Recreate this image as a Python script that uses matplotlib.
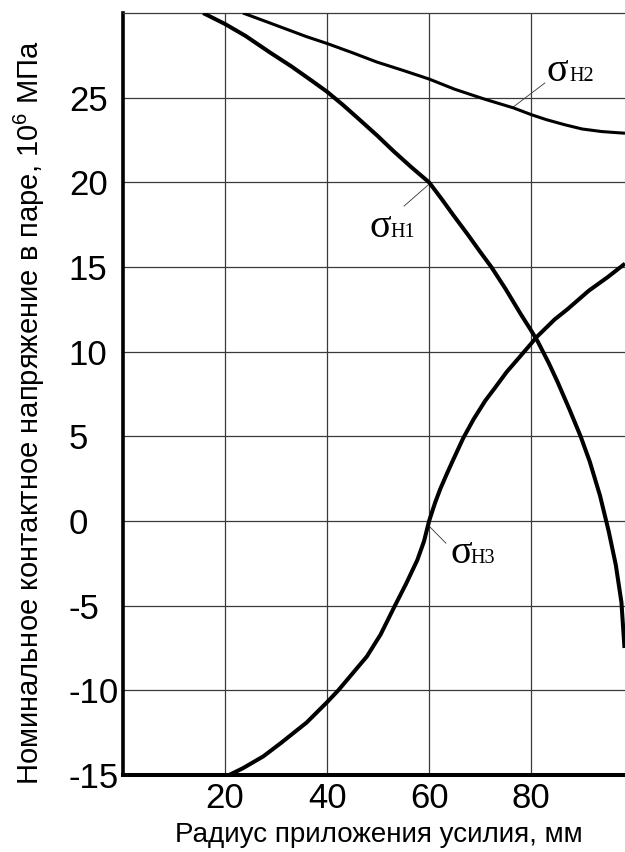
import matplotlib.pyplot as plt

plt.rcParams['font.family'] = ['Liberation Sans', 'DejaVu Sans']
plt.rcParams['mathtext.fontset'] = 'custom'
plt.rcParams['mathtext.rm'] = 'Liberation Sans'
plt.rcParams['mathtext.it'] = 'Liberation Sans'
plt.rcParams['axes.unicode_minus'] = False

# ── Data ─────────────────────────────────────────────────────────────────────
x_h1 = [15.7, 20, 24, 28.9, 33, 37, 40, 43, 46, 49.8, 53, 56.5, 60, 62.5,
        64.9, 67.5, 70, 72.2, 75, 78, 80, 81.3, 83.5, 85.2, 87.5, 89.7, 91.5,
        93.5, 95.2, 96.6, 97.7, 98.3]
y_h1 = [30, 29.35, 28.65, 27.65, 26.85, 26.0, 25.35, 24.6, 23.8, 22.77, 21.85,
        20.9, 20.0, 19.0, 18.0, 16.95, 15.9, 15.0, 13.7, 12.2, 11.25, 10.6,
        9.3, 8.2, 6.6, 5.0, 3.5, 1.5, -0.6, -2.6, -4.8, -7.5]

x_h2 = [23.5, 28, 32, 36, 40, 45, 49.8, 55, 60, 65, 71, 76.5, 80, 83, 86.6,
        90, 93.8, 96, 98.4]
y_h2 = [30, 29.5, 29.05, 28.6, 28.2, 27.65, 27.1, 26.6, 26.1, 25.5, 24.9, 24.4,
        24.0, 23.7, 23.4, 23.15, 23.0, 22.95, 22.9]

x_h3 = [20.8, 23.5, 27.5, 31, 36, 40, 42.2, 45, 47.8, 50.5, 53.3, 55.5, 57.7,
        59, 60, 61.2, 62.2, 63.5, 64.7, 66.7, 68.7, 71, 73, 75.2, 77.5, 79.5,
        81.2, 84.6, 87.1, 91.3, 95, 98.4]
y_h3 = [-15, -14.6, -13.9, -13.1, -11.9, -10.7, -10.0, -9.0, -8.0, -6.7, -5.0,
        -3.7, -2.3, -1.2, 0, 1.1, 1.9, 2.8, 3.6, 4.9, 6.0, 7.1, 7.9, 8.8, 9.6,
        10.3, 10.9, 11.9, 12.5, 13.6, 14.4, 15.2]

x_ticks = [20, 40, 60, 80]
y_ticks = [-15, -10, -5, 0, 5, 10, 15, 20, 25]

# ── Figure ───────────────────────────────────────────────────────────────────
fig = plt.figure(figsize=(6.25, 8.52), dpi=100)
ax = fig.add_axes([123 / 625, 1 - 775 / 852, 502 / 625, 762 / 852])

ax.plot(x_h1, y_h1, color='black', lw=2.9, solid_capstyle='butt', zorder=3)
ax.plot(x_h2, y_h2, color='black', lw=2.2, solid_capstyle='butt', zorder=3)
ax.plot(x_h3, y_h3, color='black', lw=2.9, solid_capstyle='butt', zorder=3)

ax.set_xlim(0, 98.4)
ax.set_ylim(-15, 30)
ax.set_xticks(x_ticks)
ax.set_yticks(y_ticks)
ax.grid(True, color='#3a3a3a', lw=0.9, zorder=1)

ax.spines['right'].set_visible(False)
ax.spines['top'].set_linewidth(0.9)
ax.spines['top'].set_color('#3a3a3a')
ax.spines['left'].set_linewidth(2.6)
ax.spines['bottom'].set_linewidth(2.9)

ax.tick_params(axis='both', length=0, labelsize=25, colors='black')
ax.tick_params(axis='y', pad=39)
ax.tick_params(axis='x', pad=5)
plt.setp(ax.get_yticklabels(), ha='left')

# ── Curve labels with leader lines ───────────────────────────────────────────
serif = ['Liberation Serif', 'DejaVu Serif']
labels = [
    # (sigma x, baseline y, sub x, sub text, leader from, leader to)
    (83.1, 26.0, 87.6, 'H2', (82.7, 25.87), (76.5, 24.45)),
    (48.4, 16.8, 52.5, 'H1', (55.1, 18.6), (59.8, 19.84)),
    (64.1, -2.5, 68.2, 'H3', (63.3, -1.31), (59.8, -0.24)),
]
for sx, sy, hx, sub, p0, p1 in labels:
    ax.plot([p0[0], p1[0]], [p0[1], p1[1]], color='#333333', lw=0.6, zorder=2)
    ax.text(sx, sy, 'σ', family=serif, fontsize=29, ha='left', va='baseline')
    ax.text(hx, sy, sub, family=serif, fontsize=14.5, ha='left', va='baseline')

# ── Axis labels ──────────────────────────────────────────────────────────────
ax.set_ylabel('Номинальное контактное напряжение в паре, 10$^6$ МПа', fontsize=21)
ax.yaxis.set_label_coords(-0.151, 0.476)
ax.set_xlabel('Радиус приложения усилия, мм', fontsize=20)
ax.xaxis.set_label_coords(0.51, -0.0617)

fig.savefig('out.png', dpi=100)
